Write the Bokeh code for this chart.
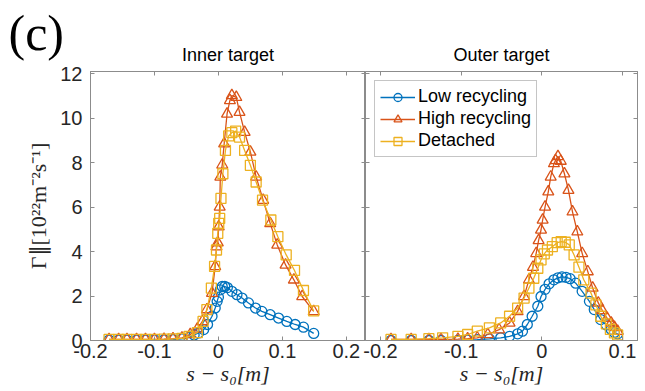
from bokeh.plotting import figure
from bokeh.layouts import row
from bokeh.models import (FixedTicker, LinearAxis, Range1d, Legend, Title,
                          LegendItem, CustomJSTickFormatter)
from bokeh.embed import file_html
from bokeh.resources import INLINE

# ---------------- data ----------------
series_names = ["Low recycling", "High recycling", "Detached"]
colors = ["#0072BD", "#D95319", "#EDB120"]
markers = ["circle", "triangle", "square"]

x_ticks_inner = [-0.2, -0.1, 0.0, 0.1, 0.2]
x_ticks_outer = [-0.2, -0.1, 0.0, 0.1]
y_ticks = [0, 2, 4, 6, 8, 10, 12]

# Inner target
inner_low_x = [-0.171, -0.156, -0.143, -0.128, -0.114, -0.100, -0.085, -0.071, -0.057, -0.046,
               -0.038, -0.031, -0.023, -0.017, -0.010, -0.005, -0.002, 0.000, 0.003, 0.006,
               0.010, 0.014, 0.021, 0.029, 0.037, 0.047, 0.058, 0.068, 0.081, 0.094,
               0.107, 0.120, 0.133, 0.149]
inner_low_y = [0.02, 0.02, 0.02, 0.02, 0.02, 0.03, 0.03, 0.04, 0.07, 0.14,
               0.25, 0.34, 0.49, 0.72, 1.09, 1.46, 1.76, 1.95, 2.28, 2.43,
               2.43, 2.38, 2.21, 2.06, 1.91, 1.69, 1.46, 1.31, 1.16, 1.01,
               0.86, 0.72, 0.60, 0.32]

inner_high_x = [-0.171, -0.156, -0.143, -0.128, -0.114, -0.100, -0.085, -0.071, -0.057, -0.044,
                -0.033, -0.025, -0.018, -0.010, -0.005, -0.003, -0.001, 0.0005, 0.002, 0.003,
                0.006, 0.009, 0.0135, 0.018, 0.021, 0.028, 0.033, 0.041, 0.050, 0.059,
                0.070, 0.081, 0.092, 0.105, 0.118, 0.131, 0.149]
inner_high_y = [0.05, 0.05, 0.05, 0.05, 0.05, 0.05, 0.06, 0.08, 0.12, 0.27,
                0.52, 0.86, 1.39, 2.13, 3.33, 4.22, 4.40, 5.12, 6.01, 7.36,
                7.90, 8.85, 10.19, 10.80, 11.02, 10.94, 10.27, 9.37, 8.48, 7.36,
                6.31, 5.27, 4.30, 3.40, 2.73, 1.98, 1.31]

inner_det_x = [-0.171, -0.156, -0.143, -0.128, -0.114, -0.100, -0.085, -0.071, -0.057, -0.046,
               -0.033, -0.024, -0.018, -0.011, -0.006, -0.003, -0.001, 0.0005, 0.002, 0.004,
               0.007, 0.011, 0.016, 0.021, 0.027, 0.033, 0.041, 0.050, 0.059, 0.069,
               0.082, 0.093, 0.106, 0.119, 0.133, 0.149]
inner_det_y = [0.05, 0.05, 0.05, 0.05, 0.05, 0.05, 0.06, 0.07, 0.10, 0.18,
               0.35, 0.86, 1.39, 2.36, 3.33, 4.07, 4.82, 5.27, 5.49, 6.39,
               7.50, 8.55, 9.20, 9.35, 9.42, 9.15, 8.55, 7.88, 7.13, 6.31,
               5.42, 4.67, 3.85, 3.15, 2.25, 1.33]

# Outer target
outer_low_x = [-0.187, -0.162, -0.140, -0.125, -0.104, -0.092, -0.080, -0.065, -0.051, -0.040,
               -0.030, -0.024, -0.018, -0.012, -0.005, -0.001, 0.004, 0.009, 0.015, 0.020,
               0.025, 0.030, 0.035, 0.042, 0.050, 0.059, 0.065, 0.073, 0.080, 0.086,
               0.090, 0.094]
outer_low_y = [0.00, 0.00, 0.00, 0.00, 0.01, 0.02, 0.04, 0.07, 0.12, 0.19,
               0.30, 0.42, 0.72, 1.09, 1.54, 1.98, 2.30, 2.55, 2.73, 2.82,
               2.86, 2.84, 2.78, 2.58, 2.21, 1.76, 1.39, 0.94, 0.70, 0.50,
               0.36, 0.30]

outer_high_x = [-0.187, -0.162, -0.140, -0.125, -0.104, -0.092, -0.080, -0.067, -0.053, -0.040,
                -0.030, -0.022, -0.016, -0.011, -0.007, -0.004, -0.001, 0.001, 0.004, 0.008,
                0.011, 0.015, 0.017, 0.020, 0.0235, 0.028, 0.033, 0.038, 0.044, 0.050,
                0.057, 0.063, 0.070, 0.075, 0.081, 0.086, 0.090, 0.094]
outer_high_y = [0.05, 0.05, 0.05, 0.05, 0.06, 0.08, 0.12, 0.27, 0.49, 0.79,
                1.31, 1.98, 2.73, 3.30, 3.92, 4.50, 4.97, 5.42, 6.01, 6.69,
                7.36, 7.96, 8.10, 8.28, 8.07, 7.50, 6.76, 5.79, 4.89, 3.92,
                3.10, 2.36, 1.69, 1.35, 1.00, 0.79, 0.60, 0.42]

outer_det_x = [-0.187, -0.162, -0.140, -0.123, -0.104, -0.092, -0.080, -0.065, -0.051, -0.040,
               -0.030, -0.022, -0.016, -0.010, -0.005, -0.001, 0.003, 0.007, 0.013, 0.019,
               0.024, 0.029, 0.034, 0.040, 0.046, 0.052, 0.061, 0.067, 0.073, 0.080,
               0.085, 0.090, 0.094]
outer_det_y = [0.05, 0.05, 0.08, 0.12, 0.19, 0.27, 0.42, 0.57, 0.79, 1.09,
               1.46, 1.91, 2.36, 2.80, 3.25, 3.63, 3.90, 4.07, 4.22, 4.40,
               4.45, 4.42, 4.30, 3.85, 3.30, 2.73, 2.13, 1.60, 1.09, 0.75,
               0.50, 0.34, 0.25]

inner_series = [(inner_low_x, inner_low_y), (inner_high_x, inner_high_y), (inner_det_x, inner_det_y)]
outer_series = [(outer_low_x, outer_low_y), (outer_high_x, outer_high_y), (outer_det_x, outer_det_y)]

# ---------------- style ----------------
AX = "#8c8c8c"
TXT = "#262626"
SANS = "Liberation Sans"
SERIF = "Liberation Serif"
H = 391


def style_axis(ax, ticks, show_labels, fmt=None):
    ax.ticker = FixedTicker(ticks=ticks)
    ax.axis_line_color = AX
    ax.major_tick_line_color = AX
    ax.major_tick_in = 4
    ax.major_tick_out = 0
    ax.minor_tick_line_color = None
    ax.major_label_text_font = SANS
    ax.major_label_text_font_size = "20px"
    ax.major_label_text_color = TXT
    if show_labels:
        if fmt is not None:
            ax.major_label_overrides = fmt
    else:
        ax.formatter = CustomJSTickFormatter(code="return ''")
        ax.major_label_text_color = None
        ax.major_label_standoff = 0


def panel_title(t, text):
    t.text = text
    t.align = "center"
    t.text_font = SANS
    t.text_font_style = "normal"
    t.text_font_size = "18px"
    t.text_color = "#000000"
    t.standoff = 14


def make_panel(xr, xticks, series, width, left, right, ylabels):
    p = figure(width=width, height=H, x_range=xr, y_range=Range1d(0, 12.1),
               output_backend="svg", toolbar_location=None,
               min_border_left=left, min_border_right=right,
               min_border_top=71, min_border_bottom=51)
    p.background_fill_color = None
    p.border_fill_color = None
    p.outline_line_color = AX
    p.grid.visible = False

    xfmt = {t: ("0" if t == 0 else f"{t:g}") for t in xticks}
    style_axis(p.xaxis[0], xticks, True, xfmt)
    p.xaxis[0].major_label_standoff = 3
    p.xaxis[0].axis_label = "s − s₀[m]"
    p.xaxis[0].axis_label_text_font = SERIF
    p.xaxis[0].axis_label_text_font_style = "italic"
    p.xaxis[0].axis_label_text_font_size = "22px"
    p.xaxis[0].axis_label_text_color = TXT
    p.xaxis[0].axis_label_standoff = 0

    style_axis(p.yaxis[0], y_ticks, ylabels)
    p.yaxis[0].major_label_standoff = 8

    top = LinearAxis()
    style_axis(top, xticks, False)
    p.add_layout(top, "above")
    rgt = LinearAxis()
    style_axis(rgt, y_ticks, False)
    p.add_layout(rgt, "right")

    items = []
    for (xs, ys), name, c, m in zip(series, series_names, colors, markers):
        ln = p.line(xs, ys, line_color=c, line_width=1.3)
        sc = p.scatter(xs, ys, marker=m, size=10 if m != "triangle" else 11,
                       line_color=c, fill_color=None, line_width=1.3)
        items.append(LegendItem(label=name, renderers=[ln, sc]))
    return p, items


# ---- left panel (inner target) ----
p1, _ = make_panel(Range1d(-0.2, 0.23), x_ticks_inner, inner_series, 365, 90, 0, True)
p1.background_fill_color = "white"
p1.border_fill_color = "white"
p1.yaxis[0].axis_label = "Γ∥[10²²m⁻²s⁻¹]"
p1.yaxis[0].axis_label_text_font = SERIF
p1.yaxis[0].axis_label_text_font_style = "normal"
p1.yaxis[0].axis_label_text_font_size = "22px"
p1.yaxis[0].axis_label_text_color = TXT
p1.yaxis[0].axis_label_standoff = 6

inner_title = Title()
panel_title(inner_title, "Inner target")
p1.add_layout(inner_title, "above")

# panel letter, outermost title
p1.title.text = "(c)"
p1.title.align = "left"
p1.title.offset = -82
p1.title.text_font = SERIF
p1.title.text_font_style = "normal"
p1.title.text_font_size = "50px"
p1.title.text_color = "#000000"
p1.title.standoff = -50

# ---- right panel (outer target) ----
p2, items = make_panel(Range1d(-0.2186, 0.1186), x_ticks_outer, outer_series, 300, 20, 8, False)
panel_title(p2.title, "Outer target")
p2.margin = (0, 0, 0, -20)

legend = Legend(items=items, location="top_left", margin=9, padding=5, spacing=1,
                label_height=20, glyph_height=20, glyph_width=35, label_standoff=3,
                label_text_font=SANS, label_text_font_size="18px", label_text_color="#000000",
                border_line_color=AX, background_fill_color="white", background_fill_alpha=1)
p2.add_layout(legend)

layout = row(p1, p2, spacing=0)
open("out.html", "w").write(file_html(layout, INLINE))
